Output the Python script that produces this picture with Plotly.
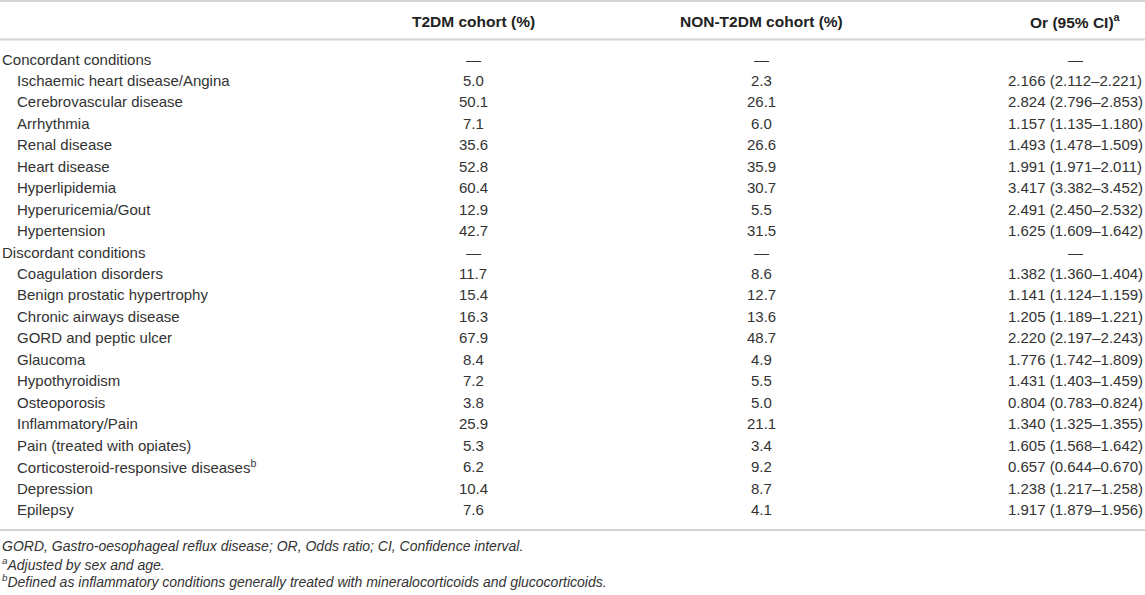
import plotly.graph_objects as go

# Table data
conditions = [
    "Concordant conditions",
    "Ischaemic heart disease/Angina", "Cerebrovascular disease", "Arrhythmia",
    "Renal disease", "Heart disease", "Hyperlipidemia", "Hyperuricemia/Gout",
    "Hypertension",
    "Discordant conditions",
    "Coagulation disorders", "Benign prostatic hypertrophy", "Chronic airways disease",
    "GORD and peptic ulcer", "Glaucoma", "Hypothyroidism", "Osteoporosis",
    "Inflammatory/Pain", "Pain (treated with opiates)",
    "Corticosteroid-responsive diseases<sup>b</sup>", "Depression", "Epilepsy",
]
is_section = [True] + [False] * 8 + [True] + [False] * 12

t2dm_pct = [None, 5.0, 50.1, 7.1, 35.6, 52.8, 60.4, 12.9, 42.7,
            None, 11.7, 15.4, 16.3, 67.9, 8.4, 7.2, 3.8, 25.9, 5.3, 6.2, 10.4, 7.6]
non_t2dm_pct = [None, 2.3, 26.1, 6.0, 26.6, 35.9, 30.7, 5.5, 31.5,
                None, 8.6, 12.7, 13.6, 48.7, 4.9, 5.5, 5.0, 21.1, 3.4, 9.2, 8.7, 4.1]
or_est = [None, 2.166, 2.824, 1.157, 1.493, 1.991, 3.417, 2.491, 1.625,
          None, 1.382, 1.141, 1.205, 2.220, 1.776, 1.431, 0.804, 1.340, 1.605, 0.657, 1.238, 1.917]
or_lo = [None, 2.112, 2.796, 1.135, 1.478, 1.971, 3.382, 2.450, 1.609,
         None, 1.360, 1.124, 1.189, 2.197, 1.742, 1.403, 0.783, 1.325, 1.568, 0.644, 1.217, 1.879]
or_hi = [None, 2.221, 2.853, 1.180, 1.509, 2.011, 3.452, 2.532, 1.642,
         None, 1.404, 1.159, 1.221, 2.243, 1.809, 1.459, 0.824, 1.355, 1.642, 0.670, 1.258, 1.956]

headers = ["T2DM cohort (%)", "NON-T2DM cohort (%)", "Or (95% CI)<sup>a</sup>"]
footnotes = [
    "GORD, Gastro-oesophageal reflux disease; OR, Odds ratio; CI, Confidence interval.",
    "<sup>a</sup>Adjusted by sex and age.",
    "<sup>b</sup>Defined as inflammatory conditions generally treated with mineralocorticoids and glucocorticoids.",
]

# layout constants (pixels / row units)
W, H = 1145, 595
ROW_PX = 21.45
FIRST_ROW_PX = 59
col_x = [473, 761, 1075]
indent_x = 15
header_px = 21
line_px = [1, 39.5, 530]
foot_px = [546, 563.5, 581]

y0 = -FIRST_ROW_PX / ROW_PX
y1 = y0 + H / ROW_PX


def px_to_row(p):
    return y0 + p / ROW_PX


TEXT = "#333333"
FONT = "Liberation Sans, Arial, sans-serif"


def fmt_pct(v):
    return "—" if v is None else f"{v:.1f}"


def fmt_or(e, lo, hi):
    return "—" if e is None else f"{e:.3f} ({lo:.3f}–{hi:.3f})"


fig = go.Figure()
annotations = []

for i, name in enumerate(conditions):
    annotations.append(dict(
        x=0 if is_section[i] else indent_x, y=i, text=name,
        xanchor="left", yanchor="middle", showarrow=False,
    ))
    cells = [fmt_pct(t2dm_pct[i]), fmt_pct(non_t2dm_pct[i]),
             fmt_or(or_est[i], or_lo[i], or_hi[i])]
    for cx, txt in zip(col_x, cells):
        annotations.append(dict(
            x=cx, y=i, text=txt, xanchor="center", yanchor="middle", showarrow=False,
        ))

for cx, txt in zip(col_x, headers):
    annotations.append(dict(
        x=cx, y=px_to_row(header_px), text=f"<b>{txt}</b>",
        xanchor="center", yanchor="middle", showarrow=False,
        font=dict(family=FONT, size=15.5, color="#222222"),
    ))

for p, txt in zip(foot_px, footnotes):
    annotations.append(dict(
        x=0, y=px_to_row(p), text=f"<i>{txt}</i>", xanchor="left", yanchor="middle",
        showarrow=False, font=dict(size=14, color=TEXT, family=FONT),
    ))

shapes = [
    dict(type="line", xref="x", yref="y", x0=0, x1=W, y0=px_to_row(p), y1=px_to_row(p),
         line=dict(color="#d4d4d4", width=2))
    for p in line_px
]

fig.update_layout(
    width=W, height=H,
    margin=dict(l=0, r=0, t=0, b=0),
    paper_bgcolor="white", plot_bgcolor="white",
    font=dict(family=FONT, size=15, color=TEXT),
    xaxis=dict(range=[0, W], visible=False, fixedrange=True),
    yaxis=dict(range=[y1, y0], visible=False, fixedrange=True),
    annotations=annotations,
    shapes=shapes,
    showlegend=False,
)

fig.write_html("out.html", config={"displayModeBar": False},
               post_script="document.body.style.margin='0';")
